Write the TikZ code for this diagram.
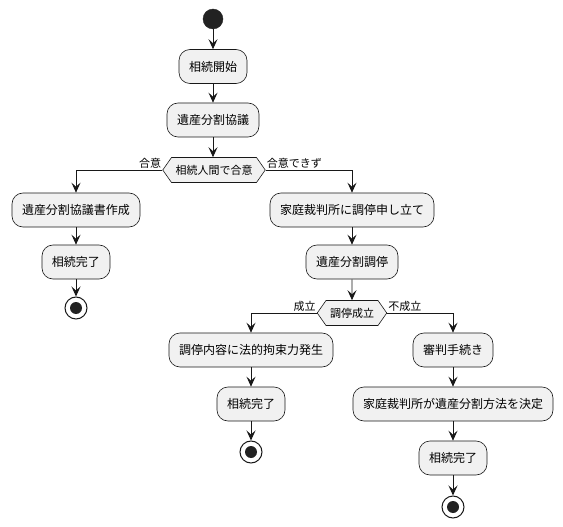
\documentclass[tikz,border=0pt]{standalone}
\usepackage{fontspec}
\newfontfamily\jp{Noto Sans CJK JP}
\usetikzlibrary{arrows.meta,shapes.symbols}
\definecolor{boxfill}{HTML}{F1F1F1}
\definecolor{boxline}{HTML}{181818}
\definecolor{dotfill}{HTML}{222222}
\begin{document}
\begin{tikzpicture}[x=1pt,y=-1pt,
  act/.style={draw=boxline, fill=boxfill, line width=0.6pt, rounded corners=11pt,
    minimum height=34pt, inner xsep=10pt, inner ysep=0pt, font=\jp\fontsize{12}{14}\selectfont},
  cond/.style={draw=boxline, fill=boxfill, line width=0.6pt, shape=signal, signal to=east and west,
    signal pointer angle=110, minimum height=25pt, inner xsep=4pt, inner ysep=0pt,
    font=\jp\fontsize{11}{13}\selectfont},
  lbl/.style={inner sep=1pt, font=\jp\fontsize{11}{13}\selectfont},
  startdot/.style={circle, fill=dotfill, draw=dotfill, minimum size=20pt, inner sep=0pt},
  enddot/.style={circle, draw=boxline, fill=white, line width=1pt, minimum size=22pt, inner sep=0pt,
    path picture={\fill[dotfill] (path picture bounding box.center) circle[radius=6pt];}},
  flow/.style={draw=boxline, line width=0.9pt, -{Stealth[length=10pt,width=9pt,inset=4pt]}}
]
\useasboundingbox (0,0) rectangle (563,527);
\node[startdot] (s) at (213,19) {};
\node[act] (a1) at (213,66.5) {相続開始};
\node[act] (a2) at (213,120) {遺産分割協議};
\node[cond] (d1) at (214,170) {相続人間で合意};
\node[act] (l1) at (76,210) {遺産分割協議書作成};
\node[act] (l2) at (76,262) {相続完了};
\node[enddot] (le) at (76,308) {};
\node[act] (r1) at (352,210) {家庭裁判所に調停申し立て};
\node[act] (r2) at (352,262) {遺産分割調停};
\node[cond] (d2) at (352,313) {調停成立};
\node[act] (m1) at (251,350) {調停内容に法的拘束力発生};
\node[act] (m2) at (251,404) {相続完了};
\node[enddot] (me) at (251,452) {};
\node[act] (n1) at (453,350) {審判手続き};
\node[act] (n2) at (453,404) {家庭裁判所が遺産分割方法を決定};
\node[act] (n3) at (453,458) {相続完了};
\node[enddot] (ne) at (453,507) {};
\node[lbl, anchor=south east] (t1) at (d1.west) {合意};
\node[lbl, anchor=south west] (t2) at (d1.east) {合意できず};
\node[lbl, anchor=south east] (t3) at (d2.west) {成立};
\node[lbl, anchor=south west] (t4) at (d2.east) {不成立};
\draw[flow] (s) -- (a1);
\draw[flow] (a1) -- (a2);
\draw[flow] (a2) -- (d1.north -| a2.south);
\draw[flow] (d1.west) -| (l1.north);
\draw[flow] (l1) -- (l2);
\draw[flow] (l2) -- (le);
\draw[flow] (d1.east) -| (r1.north);
\draw[flow] (r1) -- (r2);
\draw[flow] (r2) -- (d2);
\draw[flow] (d2.west) -| (m1.north);
\draw[flow] (m1) -- (m2);
\draw[flow] (m2) -- (me);
\draw[flow] (d2.east) -| (n1.north);
\draw[flow] (n1) -- (n2);
\draw[flow] (n2) -- (n3);
\draw[flow] (n3) -- (ne);
\end{tikzpicture}
\end{document}
